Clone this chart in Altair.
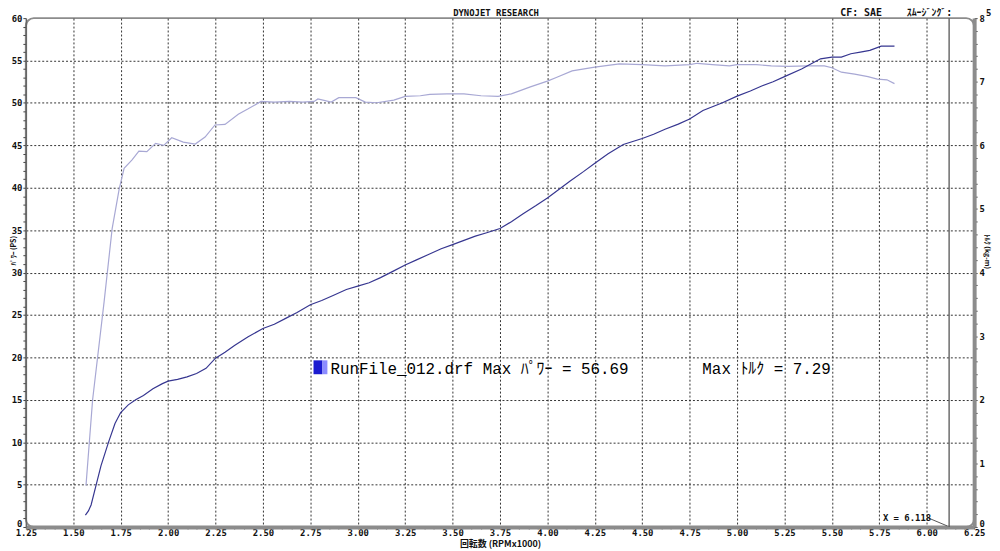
import altair as alt
import pandas as pd

# ---------------- data ----------------
power_rpm = [1.564, 1.58, 1.594, 1.62, 1.646, 1.686, 1.72, 1.75, 1.79, 1.829, 1.87, 1.92,
             1.97, 2.0, 2.05, 2.1, 2.15, 2.2, 2.25, 2.3, 2.35, 2.42, 2.5, 2.56, 2.62, 2.68,
             2.75, 2.81, 2.87, 2.94, 3.0, 3.06, 3.12, 3.19, 3.25, 3.31, 3.37, 3.44, 3.5,
             3.56, 3.62, 3.68, 3.75, 3.81, 3.87, 3.94, 4.0, 4.06, 4.12, 4.19, 4.25, 4.32,
             4.4, 4.5, 4.56, 4.62, 4.69, 4.75, 4.82, 4.92, 5.0, 5.07, 5.13, 5.19, 5.25,
             5.34, 5.44, 5.5, 5.55, 5.6, 5.65, 5.7, 5.76, 5.83]
power_ps = [1.4, 1.9, 2.6, 4.9, 7.2, 10.0, 12.2, 13.5, 14.4, 15.0, 15.5, 16.3,
            16.9, 17.2, 17.4, 17.7, 18.1, 18.7, 19.9, 20.6, 21.4, 22.4, 23.4, 23.9, 24.6, 25.3,
            26.2, 26.7, 27.3, 28.0, 28.4, 28.8, 29.4, 30.2, 30.9, 31.5, 32.1, 32.8, 33.3,
            33.8, 34.3, 34.7, 35.2, 36.0, 36.9, 37.9, 38.8, 39.8, 40.8, 41.9, 42.9, 44.0,
            45.1, 45.8, 46.3, 46.9, 47.5, 48.1, 49.1, 50.0, 50.8, 51.4, 52.0, 52.5, 53.1,
            54.0, 55.2, 55.4, 55.4, 55.8, 56.0, 56.2, 56.7, 56.69]

torque_rpm = [1.567, 1.602, 1.663, 1.705, 1.742, 1.768, 1.81, 1.846, 1.888, 1.934, 1.977,
              2.019, 2.08, 2.143, 2.195, 2.247, 2.3, 2.37, 2.42, 2.49, 2.56, 2.64, 2.71,
              2.77, 2.79, 2.86, 2.9, 2.99, 3.04, 3.1, 3.19, 3.25, 3.33, 3.38, 3.47, 3.56,
              3.65, 3.74, 3.81, 3.91, 4.0, 4.05, 4.13, 4.25, 4.38, 4.5, 4.62, 4.75, 4.79,
              4.87, 4.96, 5.0, 5.1, 5.18, 5.27, 5.37, 5.46, 5.5, 5.55, 5.62, 5.69, 5.74,
              5.79, 5.83]
torque_kgm = [0.65, 2.0, 3.55, 4.69, 5.31, 5.64, 5.77, 5.91, 5.90, 6.03, 6.0,
              6.12, 6.05, 6.02, 6.13, 6.32, 6.33, 6.49, 6.57, 6.69, 6.68, 6.69, 6.68,
              6.69, 6.73, 6.68, 6.75, 6.75, 6.68, 6.67, 6.71, 6.77, 6.78, 6.80, 6.81, 6.81,
              6.78, 6.77, 6.81, 6.92, 7.01, 7.07, 7.17, 7.23, 7.28, 7.27, 7.25, 7.27, 7.29,
              7.27, 7.25, 7.27, 7.27, 7.25, 7.24, 7.25, 7.25, 7.22, 7.15, 7.12, 7.08, 7.04,
              7.03, 6.97]

marker_rpm = [6.118]

x_ticks = [round(1.25 + 0.05 * i, 2) for i in range(101)]
y_ticks = list(range(0, 61))
t_ticks = [round(0.2 * i, 1) for i in range(41)]

header_title = ["DYNOJET  RESEARCH"]
header_cf = ["CF: SAE"]
header_smooth = ["ｽﾑｰｼﾞﾝｸﾞ:"]
header_smooth_val = ["5"]
marker_label = ["X = 6.118"]
legend_run = ["RunFile_012.drf Max ﾊﾟﾜｰ = 56.69"]
legend_torque = ["Max ﾄﾙｸ  = 7.29"]

MONO = "DejaVu Sans Mono"
JP = "Noto Sans CJK JP"
LEG = "'Liberation Mono', 'Noto Sans CJK JP'"
HDR = "'DejaVu Sans Mono', 'Noto Sans CJK JP'"
GRID = "#333333"
FRAME = "#8c8c8c"

power_df = pd.DataFrame({"rpm": power_rpm, "power": power_ps})
torque_df = pd.DataFrame({"rpm": torque_rpm, "torque": torque_kgm})
marker_df = pd.DataFrame({"rpm": marker_rpm})

xmaj = "abs(datum.value*4 - round(datum.value*4)) < 0.01"
x_axis = alt.Axis(
    values=x_ticks,
    labelExpr=f"{xmaj} ? format(datum.value, '.2f') : ''",
    grid=True,
    gridOpacity={"condition": {"test": f"{xmaj} && datum.value > 1.3 && datum.value < 6.2", "value": 1}, "value": 0},
    gridDash=[2, 2], gridColor=GRID, gridWidth=1,
    tickSize=2, tickColor="#444", tickWidth=1,
    domainColor=FRAME, domainWidth=4,
    labelFont=MONO, labelFontWeight="bold", labelFontSize=9, labelColor="#111",
    labelPadding=0, labelOverlap=False, labelFlush=False, labelBound=False,
    title="回転数 (RPMx1000)", titleFont=JP, titleFontSize=9, titleFontWeight="bold",
    titleColor="#111", titlePadding=2,
)
x_enc = alt.X("rpm:Q", scale=alt.Scale(domain=[1.25, 6.25], nice=False, zero=False), axis=x_axis)

y_axis = alt.Axis(
    values=y_ticks,
    labelExpr="datum.value % 5 == 0 ? datum.label : ''",
    labelBaseline={"condition": {"test": "datum.value == 0", "value": "alphabetic"}, "value": "middle"},
    grid=True,
    gridOpacity={"condition": {"test": "datum.value % 5 == 0 && datum.value > 0 && datum.value < 60", "value": 1}, "value": 0},
    gridDash=[2, 2], gridColor=GRID, gridWidth=1,
    tickSize=3, tickColor="#444",
    domainColor="#666", domainWidth=1.5,
    labelFont=MONO, labelFontWeight="bold", labelFontSize=9, labelColor="#111",
    labelPadding=1, labelOverlap=False, labelFlush=False, labelBound=False,
    title="ﾊﾟﾜｰ (PS)", titleFont=JP, titleFontSize=7, titleFontWeight="bold", titleColor="#111",
    titleAngle=-90, titleX=-9, titleY=234, titleBaseline="bottom", titleAlign="center",
)

t_axis = alt.Axis(
    orient="right",
    values=t_ticks,
    labelExpr="abs(datum.value - round(datum.value)) < 0.001 ? format(datum.value, 'd') : ''",
    labelBaseline={"condition": {"test": "datum.value == 0", "value": "alphabetic"}, "value": "middle"},
    grid=False,
    tickSize=3, tickColor="#444",
    domainColor=FRAME, domainWidth=4,
    labelFont=MONO, labelFontWeight="bold", labelFontSize=9, labelColor="#111",
    labelPadding=2, labelOverlap=False, labelFlush=False, labelBound=False,
    title="ﾄﾙｸ (kg-m)", titleFont=JP, titleFontSize=7, titleFontWeight="bold", titleColor="#111",
    titleAngle=90, titleX=9, titleY=235, titleBaseline="bottom", titleAlign="center",
)

power_line = alt.Chart(power_df).mark_line(color="#363690", strokeWidth=1.2).encode(
    x=x_enc,
    y=alt.Y("power:Q", scale=alt.Scale(domain=[0, 60], nice=False), axis=y_axis),
)
torque_line = alt.Chart(torque_df).mark_line(color="#a8a8d4", strokeWidth=1.2).encode(
    x=x_enc,
    y=alt.Y("torque:Q", scale=alt.Scale(domain=[0, 8], nice=False), axis=t_axis),
)
marker_rule = alt.Chart(marker_df).mark_rule(color="#555555", strokeWidth=1.3).encode(x=x_enc)


def text_layer(values, x, y, font, size, weight="normal", align="left", color="#111"):
    return alt.Chart(pd.DataFrame({"t": values})).mark_text(
        font=font, fontSize=size, fontWeight=weight, align=align, baseline="alphabetic", color=color
    ).encode(text="t:N", x=alt.value(x), y=alt.value(y))


hdr1 = text_layer(header_title, 474, -2, MONO, 9, "bold", "center")
hdr2 = text_layer(header_cf, 821, -2, MONO, 10, "bold", "left")
hdr3 = text_layer(header_smooth, 888, -2, HDR, 10, "bold", "left")
hdr4 = text_layer(header_smooth_val, 968, -2, MONO, 9, "bold", "left")
mlabel = text_layer(marker_label, 864, 507, MONO, 9, "bold", "left")
connector = alt.Chart(pd.DataFrame({"k": [0]})).mark_rule(color="#555", strokeWidth=1).encode(
    x=alt.value(910), y=alt.value(504), x2=alt.value(929), y2=alt.value(512)
)
leg1 = text_layer(legend_run, 307, 359, LEG, 16, "normal", "left", "#000")
leg2 = text_layer(legend_torque, 682, 359, LEG, 16, "normal", "left", "#000")
sw1 = alt.Chart(pd.DataFrame({"k": [0]})).mark_rect(color="#1c1cd0").encode(
    x=alt.value(290), x2=alt.value(299), y=alt.value(345), y2=alt.value(359)
)
sw2 = alt.Chart(pd.DataFrame({"k": [0]})).mark_rect(color="#8c8cff").encode(
    x=alt.value(299), x2=alt.value(304), y=alt.value(345), y2=alt.value(359)
)

chart = alt.layer(
    torque_line, power_line, marker_rule, connector, mlabel,
    hdr1, hdr2, hdr3, hdr4, sw1, sw2, leg1, leg2,
).resolve_scale(y="independent").properties(
    width=956, height=513,
    padding={"left": 18, "top": 8, "right": 18, "bottom": 22},
    autosize=alt.AutoSizeParams(type="none"),
    background="white",
).configure_view(stroke=FRAME, strokeWidth=2, cornerRadius=8)

chart.save("out.html", embed_options={"renderer": "svg", "actions": False})
